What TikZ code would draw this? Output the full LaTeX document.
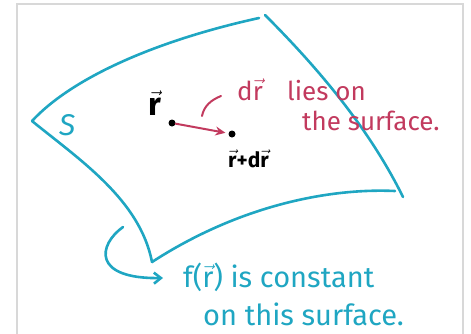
\documentclass[tikz,border=0pt]{standalone}
\usepackage{amsmath}
\usepackage{fontspec}
\setmainfont{Fira Sans}
\usetikzlibrary{arrows.meta}
\definecolor{cyanpen}{HTML}{1FA6C2}
\definecolor{redpen}{HTML}{C23A5E}
\definecolor{framegray}{HTML}{D8D8D8}
\newcommand{\vecr}{\ensuremath{\vec{\text{r}}}}
\tikzset{
  pen/.style={line width=2.6pt, line cap=round, line join=round},
  surf/.style={pen, cyanpen},
  redline/.style={pen, redpen, line width=2pt},
  cyantext/.style={text=cyanpen, font=\fontsize{29}{32}\selectfont, inner sep=0pt},
  redtext/.style={text=redpen, font=\fontsize{26}{29}\selectfont, inner sep=0pt},
  blacklabel/.style={text=black, inner sep=0pt},
  dotnode/.style={circle, fill=black, inner sep=0pt, minimum size=7pt}
}
\begin{document}
\begin{tikzpicture}[x=1pt,y=-1pt]
\useasboundingbox (0,0) rectangle (471,333);
% frame
\draw[framegray, line width=1.5pt] (17,340) -- (17,4) -- (463,4) -- (463,340);
% surface corners
\coordinate (cl) at (32,121);
\coordinate (ct) at (262,17);
\coordinate (cr) at (403,197);
\coordinate (cb) at (152,262);
\draw[surf] (cl) .. controls (70,80) and (150,42) .. (259,18);
\draw[surf] (265,15) .. controls (320,70) and (370,130) .. (cr);
\draw[surf] (395,191) .. controls (330,188) and (240,205) .. (cb);
\draw[surf] (cl) .. controls (80,160) and (140,200) .. (cb);
\node[cyantext, font=\itshape\fontsize{30}{32}\selectfont, anchor=base west] (S) at (59,135) {S};
% points
\node[dotnode] (p1) at (172,123) {};
\node[dotnode] (p2) at (232,134) {};
\draw[redline, -{Stealth[length=10pt,width=9pt]}, shorten >=3pt] (p1) -- (p2);
\node[blacklabel, font=\bfseries\fontsize{32}{34}\selectfont, anchor=base] (r) at (155,115) {\vecr};
\node[blacklabel, font=\bfseries\fontsize{21}{23}\selectfont, anchor=base west] (rdr) at (228,167) {\vecr+d\vecr};
% red annotation
\node[redtext, anchor=base west] (dr) at (237,100) {d\vecr};
\node[redtext, anchor=base west] (lies) at (287,100) {lies on};
\node[redtext, anchor=base west] (thes) at (302,130) {the surface.};
\coordinate (tick0) at (202,116);
\coordinate (tick1) at (221,96);
\draw[redline] (tick0) .. controls (204,106) and (211,100) .. (tick1);
% bottom text
\node[cyantext, anchor=base west] (fc) at (183,287) {f(\vecr) is constant};
\node[cyantext, anchor=base west] (ots) at (203,325) {on this surface.};
\coordinate (a0) at (123,227);
\coordinate (a1) at (163,278);
\draw[surf, -{Straight Barb[length=7pt,width=11pt]}] (a0) .. controls (98,245) and (92,279) .. (a1);
\end{tikzpicture}
\end{document}
